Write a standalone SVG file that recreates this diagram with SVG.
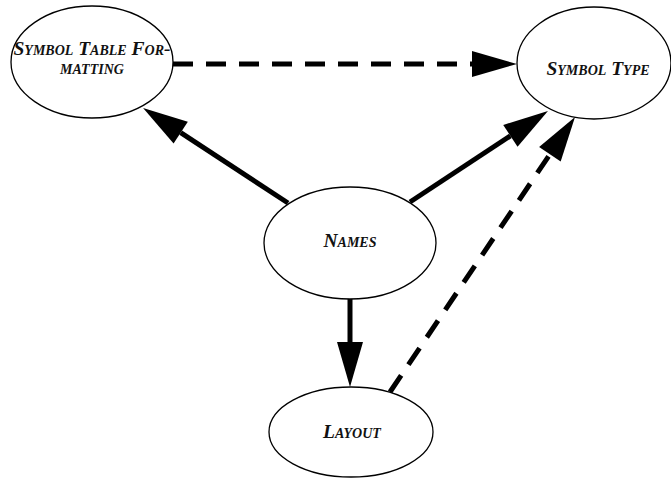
<svg xmlns="http://www.w3.org/2000/svg" width="671" height="478" viewBox="0 0 671 478">
  <style>
    .node ellipse { fill: #ffffff; stroke: #000000; stroke-width: 1.3; }
    .node text { font-family: "Liberation Serif", "DejaVu Serif", serif; font-style: italic; font-weight: bold; font-variant: small-caps; font-size: 19.5px; fill: #111111; text-anchor: middle; }
    .edge { fill: none; stroke: #000000; stroke-width: 5; }
    .dashed { stroke-dasharray: 20 13; }
  </style>
  <defs>
    <marker id="head" markerUnits="userSpaceOnUse" markerWidth="46" markerHeight="26" refX="0" refY="13" orient="auto" overflow="visible">
      <path d="M0,0 L45,13 L0,26 z" fill="#000000"/>
    </marker>
  </defs>

  <g id="connectors">
    <!-- Symbol Table Formatting to Symbol Type -->
    <line class="edge dashed" x1="173" y1="64" x2="472" y2="64" marker-end="url(#head)"/>
    <!-- Names to Symbol Table Formatting -->
    <line class="edge" x1="288" y1="203" x2="180.7" y2="132.7" marker-end="url(#head)"/>
    <!-- Names to Symbol Type -->
    <line class="edge" x1="410" y1="202" x2="510.4" y2="135.8" marker-end="url(#head)"/>
    <!-- Layout to Symbol Type -->
    <line class="edge dashed" x1="390" y1="392" x2="549.9" y2="154.3" marker-end="url(#head)"/>
    <!-- Names to Layout -->
    <line class="edge" x1="350" y1="298" x2="350" y2="342" marker-end="url(#head)"/>
  </g>

  <g id="symbol-table-formatting" class="node">
    <ellipse cx="92" cy="62" rx="81" ry="56"/>
    <text x="92" y="55">Symbol Table For-</text>
    <text x="92" y="74">matting</text>
  </g>

  <g id="symbol-type" class="node">
    <ellipse cx="594" cy="63" rx="77" ry="56"/>
    <text x="598" y="75">Symbol Type</text>
  </g>

  <g id="names" class="node">
    <ellipse cx="350" cy="243" rx="86" ry="56"/>
    <text x="350" y="247">Names</text>
  </g>

  <g id="layout" class="node">
    <ellipse cx="351" cy="432" rx="82" ry="45"/>
    <text x="352" y="438">Layout</text>
  </g>
</svg>
